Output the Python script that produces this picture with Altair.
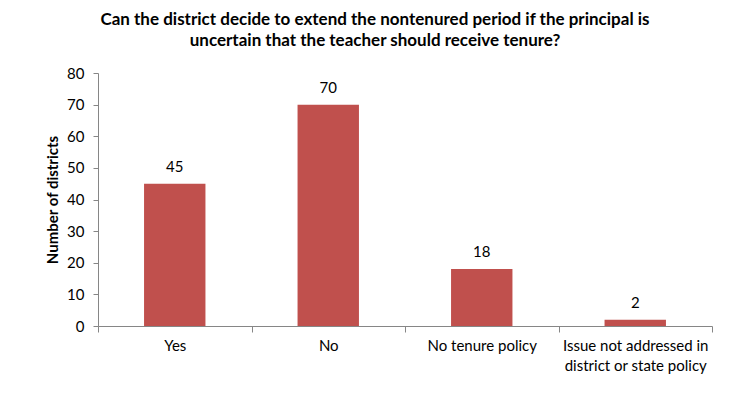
import altair as alt
import pandas as pd

categories = ["Yes", "No", "No tenure policy", "Issue not addressed in|district or state policy"]
counts = [45, 70, 18, 2]
title_lines = [
    "Can the district  decide to extend the nontenured period if the principal is",
    "uncertain that the teacher should receive tenure?",
]

df = pd.DataFrame({"category": categories, "count": counts})

FONT = "Lato"
GREY = "#868686"

x = alt.X(
    "category:N",
    sort=categories,
    scale=alt.Scale(paddingInner=0, paddingOuter=0),
    axis=alt.Axis(
        title=None,
        labelAngle=0,
        labelExpr="datum.value ? split(datum.value, '|') : ''",
        tickBand="extent",
        ticks=True,
        tickSize=6,
        tickWidth=1,
        tickColor=GREY,
        domainColor=GREY,
        labelPadding=6,
        labelFontSize=15,
        labelColor="#000000",
        labelFont=FONT,
        labelLineHeight=20,
    ),
)

y = alt.Y(
    "count:Q",
    scale=alt.Scale(domain=[0, 80], nice=False),
    axis=alt.Axis(
        title="Number of districts",
        values=list(range(0, 81, 10)),
        grid=False,
        tickSize=5,
        tickColor=GREY,
        domainColor=GREY,
        labelPadding=9,
        labelFontSize=15,
        labelColor="#000000",
        labelFont=FONT,
        titleFont=FONT,
        titleFontSize=15,
        titleFontWeight="bold",
        titleColor="#000000",
        titlePadding=6,
    ),
)

base = alt.Chart(df).encode(x=x, y=y)

bars = base.mark_bar(color="#C0504D", width=alt.RelativeBandSize(0.4))
labels = base.mark_text(baseline="bottom", dy=-9, fontSize=15, font=FONT, color="#000000").encode(
    text="count:Q"
)

chart = (
    alt.layer(bars, labels)
    .properties(
        width=614,
        height=253,
        title=alt.TitleParams(
            text=title_lines,
            font=FONT,
            fontSize=17,
            fontWeight="bold",
            color="#000000",
            anchor="middle",
            lineHeight=21,
            dx=-30,
            offset=16,
        ),
        padding={"left": 37, "top": 3, "right": 5, "bottom": 5},
    )
    .configure_view(stroke=None)
)

chart.save("out.html", embed_options={"renderer": "svg", "actions": False})
